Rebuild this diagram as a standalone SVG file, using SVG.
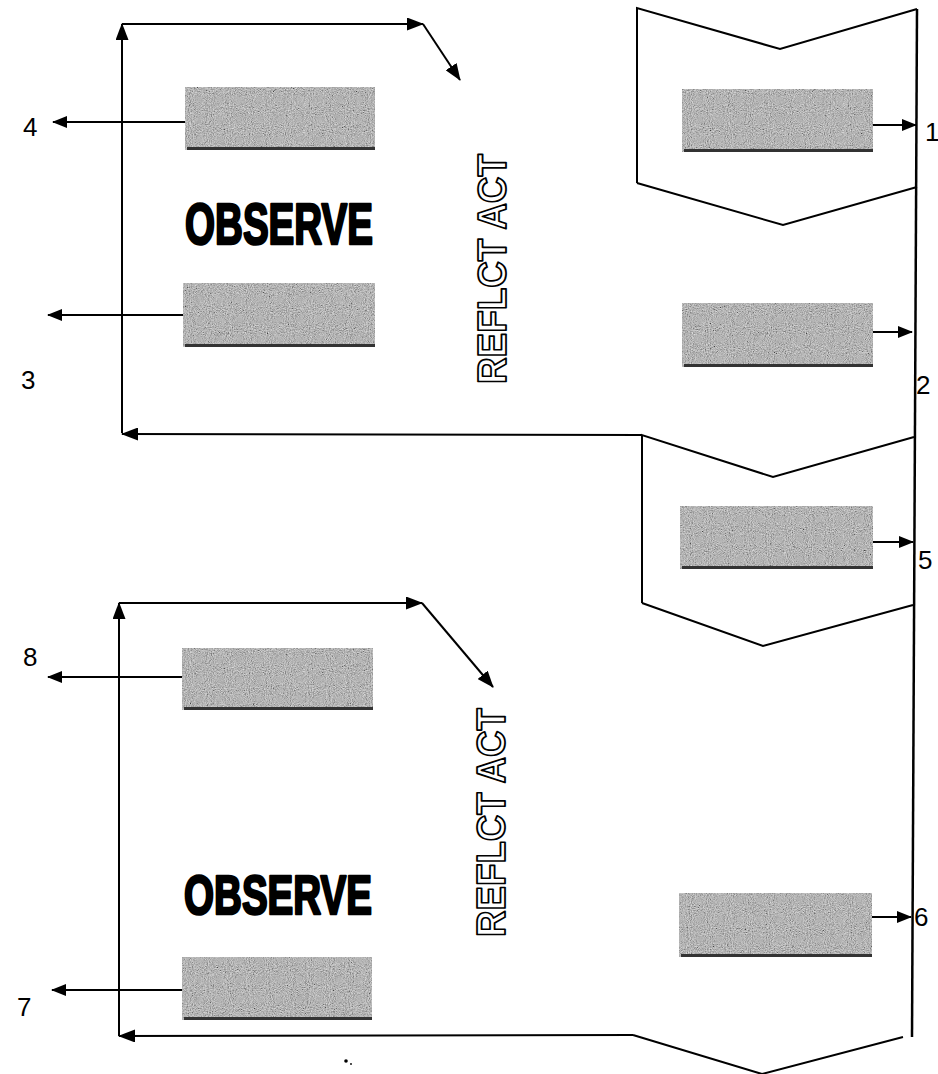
<svg xmlns="http://www.w3.org/2000/svg" width="938" height="1074" viewBox="0 0 938 1074">
<style>
.ln{fill:none;stroke:#000;stroke-width:2;stroke-linejoin:miter}
.box{fill:#a8a8a8}
.grain{fill:#fff;filter:url(#noise);opacity:0.6}
.shd{fill:#333}
.num{font-family:"Liberation Sans",Arial,sans-serif;font-size:26px;fill:#000}
.obs{font-family:"Liberation Sans",Arial,sans-serif;font-weight:bold;fill:#000;stroke:#000;stroke-width:2.6;stroke-linejoin:round}
.ref{font-family:"Liberation Sans",Arial,sans-serif;font-weight:bold;font-size:41px;fill:#fff;stroke:#000;stroke-width:1.8;stroke-linejoin:round}
</style>
<defs>
<filter id="noise" x="0" y="0" width="100%" height="100%">
<feTurbulence type="fractalNoise" baseFrequency="0.95" numOctaves="2" seed="3" result="t"/>
<feColorMatrix in="t" type="matrix" values="0.7 0.7 0.7 0 -0.55 0.7 0.7 0.7 0 -0.55 0.7 0.7 0.7 0 -0.55 0 0 0 0 1" result="g"/>
<feComposite in="g" in2="SourceGraphic" operator="in"/>
</filter>
<marker id="big" markerUnits="userSpaceOnUse" markerWidth="17" markerHeight="13" refX="16" refY="6.5" orient="auto">
<path d="M0,0 L17,6.5 L0,13 z" fill="#000"/>
</marker>
<marker id="sm" markerUnits="userSpaceOnUse" markerWidth="15" markerHeight="12" refX="14" refY="6" orient="auto">
<path d="M0,0 L15,6 L0,12 z" fill="#000"/>
</marker>
</defs>
<rect width="938" height="1074" fill="#fff"/>

<g id="frames">
<path class="ln" d="M637,183 L637,8 L780,49 L917,9"/>
<path class="ln" d="M637,183 L783,225 L917,187"/>
<path class="ln" style="stroke-width:2.5" d="M917,9 L912,1037"/>
<path class="ln" d="M642,603 L642,435 L773,477 L914,437"/>
<path class="ln" d="M642,603 L763,646 L913,605"/>
<path class="ln" d="M633,1035 L762,1074 L903,1037"/>
</g>

<g id="connectors">
<line class="ln" x1="122" y1="433" x2="122" y2="24" marker-end="url(#big)"/>
<line class="ln" x1="122" y1="24" x2="423" y2="24" marker-end="url(#big)"/>
<line class="ln" x1="423" y1="24" x2="460" y2="80" marker-end="url(#big)"/>
<line class="ln" x1="642" y1="435" x2="122" y2="434" marker-end="url(#big)"/>
<line class="ln" x1="119" y1="1036" x2="119" y2="603" marker-end="url(#big)"/>
<line class="ln" x1="119" y1="603" x2="422" y2="603" marker-end="url(#big)"/>
<line class="ln" x1="422" y1="603" x2="493" y2="687" marker-end="url(#big)"/>
<line class="ln" x1="633" y1="1035" x2="119" y2="1036" marker-end="url(#big)"/>
<line class="ln" x1="185" y1="122" x2="53" y2="122" marker-end="url(#sm)"/>
<line class="ln" x1="183" y1="315" x2="48" y2="315" marker-end="url(#sm)"/>
<line class="ln" x1="182" y1="677" x2="48" y2="677" marker-end="url(#sm)"/>
<line class="ln" x1="182" y1="990" x2="52" y2="990" marker-end="url(#sm)"/>
<line class="ln" x1="873" y1="125" x2="916" y2="125" marker-end="url(#sm)"/>
<line class="ln" x1="873" y1="332" x2="912" y2="332" marker-end="url(#sm)"/>
<line class="ln" x1="873" y1="542" x2="913" y2="542" marker-end="url(#sm)"/>
<line class="ln" x1="872" y1="917" x2="911" y2="917" marker-end="url(#sm)"/>
</g>

<g id="box-l1"><rect class="box" x="185" y="87" width="190" height="63"/><rect class="grain" x="185" y="87" width="190" height="63"/><rect class="shd" x="187" y="147" width="188" height="3"/></g>
<g id="box-l2"><rect class="box" x="183" y="283" width="192" height="64"/><rect class="grain" x="183" y="283" width="192" height="64"/><rect class="shd" x="185" y="344" width="190" height="3"/></g>
<g id="box-l3"><rect class="box" x="182" y="648" width="191" height="62"/><rect class="grain" x="182" y="648" width="191" height="62"/><rect class="shd" x="184" y="707" width="189" height="3"/></g>
<g id="box-l4"><rect class="box" x="182" y="957" width="190" height="63"/><rect class="grain" x="182" y="957" width="190" height="63"/><rect class="shd" x="184" y="1017" width="188" height="3"/></g>
<g id="box-r1"><rect class="box" x="682" y="89" width="191" height="63"/><rect class="grain" x="682" y="89" width="191" height="63"/><rect class="shd" x="684" y="149" width="189" height="3"/></g>
<g id="box-r2"><rect class="box" x="682" y="303" width="191" height="64"/><rect class="grain" x="682" y="303" width="191" height="64"/><rect class="shd" x="684" y="364" width="189" height="3"/></g>
<g id="box-r3"><rect class="box" x="680" y="506" width="193" height="63"/><rect class="grain" x="680" y="506" width="193" height="63"/><rect class="shd" x="682" y="566" width="191" height="3"/></g>
<g id="box-r4"><rect class="box" x="679" y="893" width="193" height="64"/><rect class="grain" x="679" y="893" width="193" height="64"/><rect class="shd" x="681" y="954" width="191" height="3"/></g>

<g id="observe-top"><text class="obs" x="185" y="244" font-size="58" textLength="188" lengthAdjust="spacingAndGlyphs">OBSERVE</text></g>
<g id="observe-bottom"><text class="obs" x="184" y="914" font-size="55" textLength="188" lengthAdjust="spacingAndGlyphs">OBSERVE</text></g>
<g id="reflect-top"><text class="ref" transform="translate(506,384) rotate(-90)" textLength="230" lengthAdjust="spacingAndGlyphs">REFLCT ACT</text></g>
<g id="reflect-bottom"><text class="ref" transform="translate(505,937) rotate(-90)" textLength="229" lengthAdjust="spacingAndGlyphs">REFLCT ACT</text></g>

<g id="labels">
<text class="num" x="925" y="141">1</text>
<text class="num" x="916" y="394">2</text>
<text class="num" x="21" y="389">3</text>
<text class="num" x="23" y="136">4</text>
<text class="num" x="918" y="569">5</text>
<text class="num" x="914" y="926">6</text>
<text class="num" x="17" y="1016">7</text>
<text class="num" x="23" y="666">8</text>
</g>
<circle cx="346" cy="1061" r="1.8" fill="#000"/>
<circle cx="351" cy="1064" r="0.9" fill="#000"/>
</svg>
